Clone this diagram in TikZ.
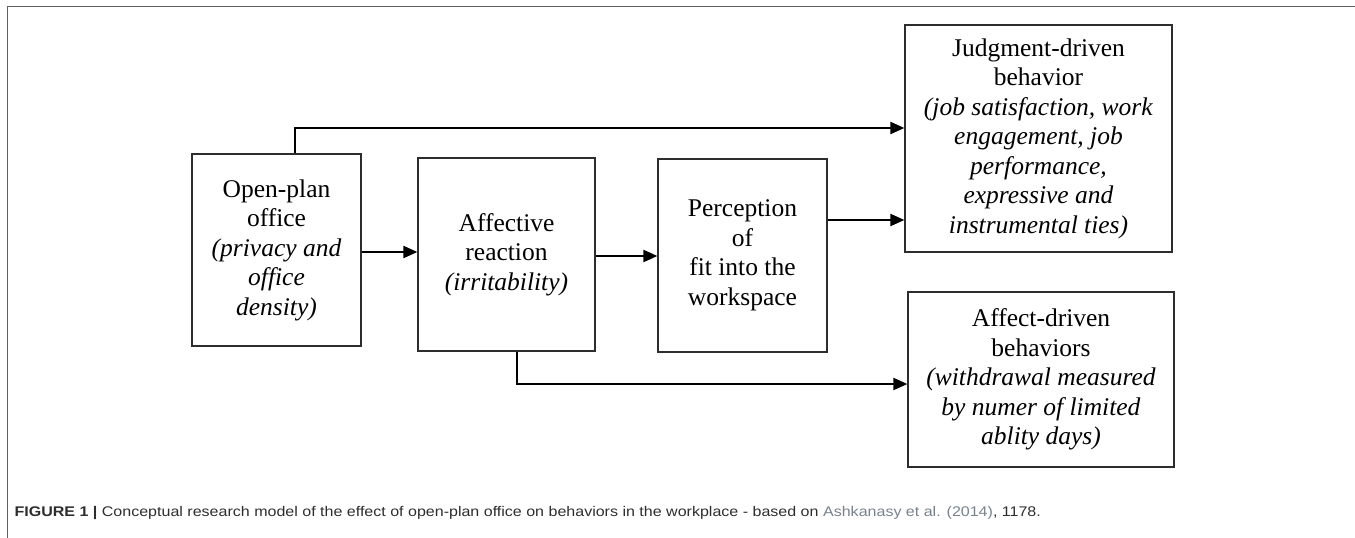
\documentclass[tikz,border=0pt]{standalone}
\usepackage{fontspec}
\setmainfont{Liberation Serif}
\newfontfamily\capfont{Liberation Sans}
\usepackage{tikz}
\usetikzlibrary{arrows.meta,calc,positioning}
\definecolor{frameg}{RGB}{95,95,95}
\definecolor{boxg}{RGB}{45,45,45}
\definecolor{capg}{RGB}{45,45,45}
\definecolor{citeg}{RGB}{120,130,140}

\begin{document}
\begin{tikzpicture}[x=1pt,y=-1pt,
every node/.style={draw=boxg,line width=1.2pt,inner sep=0pt,align=center,
  font=\fontsize{25.5}{29.5}\selectfont},
arr/.style={line width=2pt,-{Triangle[length=14pt,width=12pt]}}]
\useasboundingbox (0,0) rectangle (1355,538);
\draw[frameg,line width=1.4pt] (7.5,538) -- (7.5,6.5) -- (1355,6.5);
\node[minimum width=169pt,minimum height=192pt] (B1) at (276.5,250) {Open-plan\\office\\\textit{(privacy and}\\\textit{office}\\\textit{density)}};
\node[minimum width=177pt,minimum height=193pt] (B2) at (506.5,254.5) {Affective\\reaction\\\textit{(irritability)}};
\node[minimum width=169pt,minimum height=193pt] (B3) at (742.5,255.5) {Perception\\of\\fit into the\\workspace};
\node[minimum width=267pt,minimum height=227pt] (B4) at (1038.5,138.5) {Judgment-driven\\behavior\\\textit{(job satisfaction, work}\\\textit{engagement, job}\\\textit{performance,}\\\textit{expressive and}\\\textit{instrumental ties)}};
\node[minimum width=266pt,minimum height=175pt] (B5) at (1041,379.5) {Affect-driven\\behaviors\\\textit{(withdrawal measured}\\\textit{by numer of limited}\\\textit{ablity days)}};
\coordinate (C1) at (295,128);
\coordinate (C2) at (0,252);
\coordinate (C3) at (0,256);
\coordinate (C4) at (0,220);
\coordinate (C5) at (517,384);
\draw[arr] (B1.north -| C1) |- (B4.west |- C1);
\draw[arr] (B1.east |- C2) -- (B2.west |- C2);
\draw[arr] (B2.east |- C3) -- (B3.west |- C3);
\draw[arr] (B3.east |- C4) -- (B4.west |- C4);
\draw[arr] (B2.south -| C5) |- (B5.west |- C5);
\node[draw=none,anchor=west,align=left,text=capg,font=\capfont\fontsize{14}{16}\selectfont] (cap) at (14,513)
{\scalebox{1.145}[1]{\textbf{FIGURE 1 |} Conceptual research model of the effect of open-plan office on behaviors in the workplace - based on \textcolor{citeg}{Ashkanasy et al. (2014)}, 1178.}};
\end{tikzpicture}
\end{document}
